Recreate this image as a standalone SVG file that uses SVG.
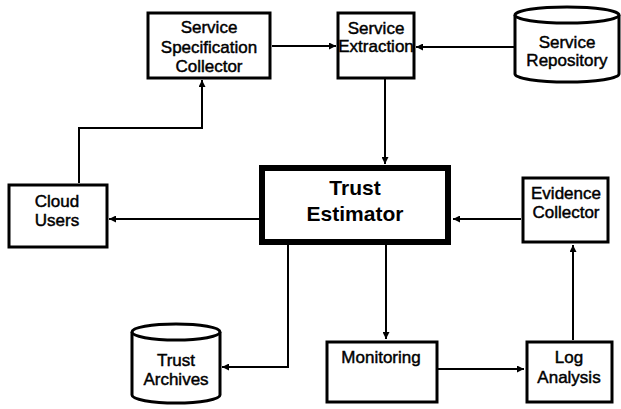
<svg xmlns="http://www.w3.org/2000/svg" width="621" height="409" viewBox="0 0 621 409">
  <defs>
    <marker id="arrow" viewBox="0 0 10 10" refX="10" refY="5" markerWidth="8" markerHeight="7" markerUnits="userSpaceOnUse" orient="auto">
      <path d="M0,0 L10,5 L0,10 Z" fill="#000"/>
    </marker>
  </defs>
  <style>
    .box { fill: #fff; stroke: #000; stroke-width: 3; }
    .main { fill: #fff; stroke: #000; stroke-width: 6; }
    .db { fill: #fff; stroke: #000; stroke-width: 3; }
    .lbl { font-family: "Liberation Sans", Arial, sans-serif; font-size: 17px; text-anchor: middle; fill: #000; stroke: #000; stroke-width: 0.45; }
    .big { font-family: "Liberation Sans", Arial, sans-serif; font-size: 21px; font-weight: bold; text-anchor: middle; fill: #000; }
    .conn { fill: none; stroke: #000; stroke-width: 2; }
  </style>
  <rect width="621" height="409" fill="#fff"/>

  <g id="connectors">
    <path class="conn" d="M272,46 H336" marker-end="url(#arrow)"/>
    <path class="conn" d="M514,47 H416" marker-end="url(#arrow)"/>
    <path class="conn" d="M385,79 V164" marker-end="url(#arrow)"/>
    <path class="conn" d="M79,183 V128 H202 V80" marker-end="url(#arrow)"/>
    <path class="conn" d="M259,219 H109" marker-end="url(#arrow)"/>
    <path class="conn" d="M521,219 H453" marker-end="url(#arrow)"/>
    <path class="conn" d="M288,245 V367 H222" marker-end="url(#arrow)"/>
    <path class="conn" d="M386,245 V339" marker-end="url(#arrow)"/>
    <path class="conn" d="M438,369 H524" marker-end="url(#arrow)"/>
    <path class="conn" d="M573,340 V245" marker-end="url(#arrow)"/>
  </g>

  <g id="service-specification-collector">
    <rect class="box" x="148" y="13" width="122" height="65"/>
    <text class="lbl" x="209" y="33">Service</text>
    <text class="lbl" x="209" y="53">Specification</text>
    <text class="lbl" x="209" y="72">Collector</text>
  </g>

  <g id="service-extraction">
    <rect class="box" x="338" y="13" width="76" height="65"/>
    <text class="lbl" x="376" y="34">Service</text>
    <text class="lbl" x="376" y="52">Extraction</text>
  </g>

  <g id="service-repository">
    <path class="db" d="M515,15 A52,8 0 0,1 619,15 V74 A52,8 0 0,1 515,74 Z"/>
    <path class="db" d="M515,15 A52,8 0 0,0 619,15"/>
    <text class="lbl" x="567" y="48">Service</text>
    <text class="lbl" x="567" y="66">Repository</text>
  </g>

  <g id="cloud-users">
    <rect class="box" x="9" y="185" width="98" height="62"/>
    <text class="lbl" x="57" y="207">Cloud</text>
    <text class="lbl" x="57" y="226">Users</text>
  </g>

  <g id="trust-estimator">
    <rect class="main" x="262" y="168" width="186" height="74"/>
    <text class="big" x="355" y="195">Trust</text>
    <text class="big" x="355" y="221">Estimator</text>
  </g>

  <g id="evidence-collector">
    <rect class="box" x="523" y="178" width="85" height="64"/>
    <text class="lbl" x="566" y="199">Evidence</text>
    <text class="lbl" x="566" y="218">Collector</text>
  </g>

  <g id="trust-archives">
    <path class="db" d="M132,332 A44,8 0 0,1 220,332 V395 A44,8 0 0,1 132,395 Z"/>
    <path class="db" d="M132,332 A44,8 0 0,0 220,332"/>
    <text class="lbl" x="176" y="366">Trust</text>
    <text class="lbl" x="176" y="385">Archives</text>
  </g>

  <g id="monitoring">
    <rect class="box" x="327" y="342" width="110" height="60"/>
    <text class="lbl" x="381" y="363">Monitoring</text>
  </g>

  <g id="log-analysis">
    <rect class="box" x="527" y="342" width="85" height="60"/>
    <text class="lbl" x="569" y="363">Log</text>
    <text class="lbl" x="569" y="383">Analysis</text>
  </g>
</svg>
